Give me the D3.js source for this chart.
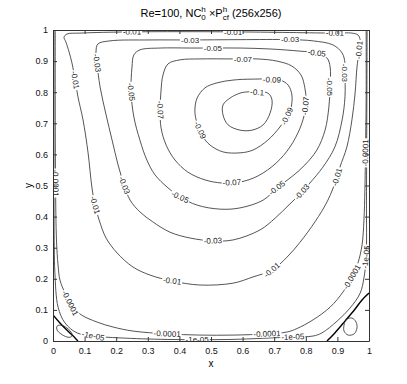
<!DOCTYPE html>
<html><head><meta charset="utf-8">
<script src="https://cdn.jsdelivr.net/npm/d3@7"></script>
<style>body{margin:0;background:#fff} text{font-family:"Liberation Sans",Arial,sans-serif;white-space:pre}</style>
</head><body><svg id="c" width="407" height="384"></svg>
<script>
// ---------- data ----------
const xTickValues = [0,0.1,0.2,0.3,0.4,0.5,0.6,0.7,0.8,0.9,1];
const xTickLabels = ["0","0.1","0.2","0.3","0.4","0.5","0.6","0.7","0.8","0.9","1"];
const yTickValues = [0,0.1,0.2,0.3,0.4,0.5,0.6,0.7,0.8,0.9,1];
const yTickLabels = ["0","0.1","0.2","0.3","0.4","0.5","0.6","0.7","0.8","0.9","1"];

// contour lines of the stream function (x, y)
const cM010 = [[0.680,0.797],[0.693,0.775],[0.687,0.733],[0.665,0.695],[0.630,0.678],[0.592,0.678],[0.554,0.695],[0.538,0.727],[0.538,0.759],[0.560,0.781],[0.592,0.797],[0.617,0.801]];
const cM009 = [[0.630,0.842],[0.718,0.839],[0.744,0.823],[0.756,0.791],[0.753,0.749],[0.741,0.723],[0.718,0.688],[0.680,0.646],[0.633,0.614],[0.592,0.605],[0.538,0.608],[0.497,0.630],[0.475,0.656],[0.465,0.678],[0.453,0.711],[0.449,0.743],[0.456,0.781],[0.481,0.814],[0.519,0.830],[0.570,0.839]];
const cM007 = [[0.570,0.907],[0.646,0.907],[0.709,0.900],[0.756,0.884],[0.785,0.855],[0.797,0.814],[0.801,0.775],[0.797,0.736],[0.782,0.685],[0.750,0.624],[0.706,0.572],[0.649,0.531],[0.592,0.511],[0.535,0.508],[0.481,0.518],[0.427,0.543],[0.386,0.582],[0.358,0.630],[0.342,0.685],[0.339,0.743],[0.342,0.807],[0.348,0.855],[0.364,0.891],[0.402,0.904],[0.465,0.907]];
const cM005 = [[0.275,0.936],[0.339,0.942],[0.434,0.942],[0.506,0.942],[0.592,0.942],[0.687,0.939],[0.782,0.932],[0.835,0.926],[0.867,0.910],[0.877,0.881],[0.877,0.817],[0.873,0.752],[0.861,0.678],[0.835,0.614],[0.797,0.566],[0.759,0.531],[0.709,0.492],[0.665,0.453],[0.592,0.428],[0.528,0.424],[0.456,0.437],[0.402,0.463],[0.361,0.495],[0.323,0.534],[0.297,0.582],[0.275,0.646],[0.256,0.720],[0.247,0.801],[0.250,0.881],[0.256,0.920]];
const cM003 = [[0.142,0.955],[0.180,0.965],[0.307,0.968],[0.434,0.968],[0.592,0.969],[0.750,0.969],[0.823,0.965],[0.886,0.952],[0.915,0.926],[0.924,0.894],[0.924,0.862],[0.924,0.785],[0.915,0.711],[0.892,0.624],[0.854,0.559],[0.813,0.508],[0.788,0.479],[0.750,0.441],[0.703,0.395],[0.655,0.357],[0.570,0.325],[0.506,0.322],[0.434,0.331],[0.370,0.350],[0.316,0.383],[0.275,0.415],[0.244,0.453],[0.225,0.502],[0.206,0.566],[0.187,0.646],[0.168,0.727],[0.149,0.817],[0.139,0.894],[0.136,0.929]];
const cM001 = [[0.035,0.977],[0.044,0.987],[0.085,0.990],[0.250,0.994],[0.570,0.994],[0.892,0.990],[0.946,0.990],[0.965,0.984],[0.972,0.968],[0.968,0.926],[0.962,0.881],[0.956,0.797],[0.946,0.711],[0.930,0.624],[0.908,0.559],[0.899,0.527],[0.870,0.453],[0.829,0.383],[0.782,0.318],[0.741,0.270],[0.693,0.228],[0.633,0.206],[0.570,0.186],[0.465,0.180],[0.377,0.193],[0.307,0.212],[0.253,0.238],[0.203,0.283],[0.168,0.331],[0.146,0.389],[0.133,0.437],[0.123,0.495],[0.111,0.605],[0.095,0.711],[0.079,0.785],[0.070,0.839],[0.060,0.894],[0.051,0.929],[0.041,0.961]];
const cM00001 = [[0.007,0.997],[0.007,0.775],[0.008,0.508],[0.011,0.325],[0.016,0.244],[0.022,0.196],[0.038,0.154],[0.054,0.122],[0.085,0.087],[0.139,0.061],[0.190,0.045],[0.253,0.032],[0.361,0.023],[0.465,0.019],[0.570,0.019],[0.677,0.023],[0.741,0.029],[0.772,0.040],[0.823,0.068],[0.877,0.109],[0.918,0.158],[0.946,0.206],[0.965,0.251],[0.978,0.309],[0.984,0.389],[0.987,0.486],[0.989,0.614],[0.991,0.775],[0.991,0.997]];
const cM1e5 = [[0.003,0.997],[0.003,0.500],[0.004,0.300],[0.006,0.219],[0.016,0.109],[0.038,0.058],[0.076,0.026],[0.127,0.016],[0.212,0.010],[0.361,0.005],[0.560,0.005],[0.759,0.013],[0.823,0.016],[0.851,0.026],[0.899,0.064],[0.940,0.106],[0.972,0.154],[0.984,0.203],[0.991,0.270],[0.992,0.453],[0.994,0.997]];
const cZeroLeft = [[0.000,0.084],[0.022,0.058],[0.047,0.032],[0.070,0.010],[0.079,0.000]];
const cZeroRight = [[0.867,0.000],[0.892,0.026],[0.924,0.064],[0.956,0.103],[0.978,0.132],[1.000,0.154]];
const cEddyLeft = [[0.013,0.048],[0.025,0.051],[0.044,0.042],[0.060,0.023],[0.057,0.013],[0.044,0.013],[0.025,0.023],[0.013,0.035]];
const cEddyRight = [[0.927,0.068],[0.946,0.074],[0.959,0.061],[0.962,0.042],[0.953,0.023],[0.934,0.019],[0.921,0.032],[0.921,0.051]];

// label anchors (x, y) per level
const lbM010 = [[0.646,0.799]];
const lbM009 = [[0.693,0.842],[0.741,0.723],[0.465,0.678]];
const lbM007 = [[0.601,0.907],[0.801,0.756],[0.339,0.743],[0.566,0.508]];
const lbM005 = [[0.506,0.942],[0.835,0.929],[0.877,0.817],[0.247,0.801],[0.402,0.463],[0.709,0.492]];
const lbM003 = [[0.434,0.968],[0.750,0.971],[0.924,0.862],[0.788,0.479],[0.506,0.322],[0.228,0.502],[0.139,0.894]];
const lbM001 = [[0.250,0.994],[0.570,0.994],[0.892,0.990],[0.968,0.936],[0.899,0.527],[0.693,0.228],[0.377,0.193],[0.133,0.437],[0.070,0.839]];
const lbM00001 = [[0.007,0.508],[0.987,0.605],[0.054,0.122],[0.361,0.019],[0.677,0.023],[0.946,0.206]];
const lbM1e5 = [[0.127,0.016],[0.456,0.005],[0.759,0.013],[0.991,0.270]];

const titleParts = {main1:"Re=100, NC", sup1:"h", sub1:"0", main2:"\u00a0\u00d7P", sup2:"h", sub2:"cf", main3:"\u00a0(256x256)"};

// ---------- build ----------
const contours = [
  {level:-0.1, text:"-0.1", pts:cM010, closed:true, labels:lbM010},
  {level:-0.09, text:"-0.09", pts:cM009, closed:true, labels:lbM009},
  {level:-0.07, text:"-0.07", pts:cM007, closed:true, labels:lbM007},
  {level:-0.05, text:"-0.05", pts:cM005, closed:true, labels:lbM005},
  {level:-0.03, text:"-0.03", pts:cM003, closed:true, labels:lbM003},
  {level:-0.01, text:"-0.01", pts:cM001, closed:true, labels:lbM001},
  {level:-0.0001, text:"-0.0001", pts:cM00001, closed:false, labels:lbM00001},
  {level:-1e-5, text:"-1e-05", pts:cM1e5, closed:false, labels:lbM1e5},
  {level:0, text:"0", pts:cZeroLeft, closed:false, labels:[], thick:true},
  {level:0, text:"0", pts:cZeroRight, closed:false, labels:[], thick:true},
  {level:1e-6, text:"1e-06", pts:cEddyLeft, closed:true, labels:[]},
  {level:1e-6, text:"1e-06", pts:cEddyRight, closed:true, labels:[]}
];

const svg = d3.select("#c");
const W = 407, H = 384;
const m = {l:53, r:38, t:30, b:43};
const x = d3.scaleLinear().domain([0,1]).range([m.l, W-m.r]);
const y = d3.scaleLinear().domain([0,1]).range([H-m.b, m.t]);

svg.append("defs").append("clipPath").attr("id","clip")
  .append("rect").attr("x",x(0)).attr("y",y(1)).attr("width",x(1)-x(0)).attr("height",y(0)-y(1));

const g = svg.append("g").attr("clip-path","url(#clip)");
const lineOpen = d3.line().x(d=>x(d[0])).y(d=>y(d[1])).curve(d3.curveCatmullRom.alpha(0.5));
const lineClosed = d3.line().x(d=>x(d[0])).y(d=>y(d[1])).curve(d3.curveCatmullRomClosed.alpha(0.5));

contours.forEach(c=>{
  g.append("path").attr("d",(c.closed?lineClosed:lineOpen)(c.pts))
    .attr("fill","none").attr("stroke", c.thick?"#000":"#2a2a2a")
    .attr("stroke-width", c.thick?1.4:0.8);
});

// labels snapped to their contour, rotated along it
function project(pts, closed, px, py){
  const P = pts.map(p=>[x(p[0]),y(p[1])]);
  if(closed) P.push(P[0]);
  let best={d:1e9};
  for(let i=0;i<P.length-1;i++){
    const [ax,ay]=P[i],[bx,by]=P[i+1];
    const dx=bx-ax, dy=by-ay, L=dx*dx+dy*dy;
    let t=L?((px-ax)*dx+(py-ay)*dy)/L:0; t=Math.max(0,Math.min(1,t));
    const qx=ax+t*dx, qy=ay+t*dy, d=(qx-px)**2+(qy-py)**2;
    if(d<best.d) best={d, qx, qy, ang:Math.atan2(dy,dx)*180/Math.PI};
  }
  let a=best.ang; if(a>90) a-=180; if(a<-90) a+=180;
  best.ang=a; return best;
}
const lg = svg.append("g").attr("clip-path","url(#clip)");
contours.forEach(c=>{
  c.labels.forEach(l=>{
    const p = project(c.pts, c.closed, x(l[0]), y(l[1]));
    const gg = lg.append("g").attr("transform",`translate(${p.qx},${p.qy}) rotate(${p.ang})`);
    const r = gg.append("rect").attr("fill","#fff");
    const t = gg.append("text").text(c.text).attr("font-size",8).attr("fill","#222")
      .attr("text-anchor","middle").attr("dy","0.33em");
    const w = t.node().getComputedTextLength();
    r.attr("x",-w/2-1).attr("y",-3.5).attr("width",w+2).attr("height",7);
  });
});

// axes
const fmtX = (d,i)=>xTickLabels[i];
const fmtY = (d,i)=>yTickLabels[i];
const axB = svg.append("g").attr("transform",`translate(0,${y(0)})`)
  .call(d3.axisBottom(x).tickValues(xTickValues).tickFormat(fmtX).tickSizeInner(-4).tickSizeOuter(0).tickPadding(7));
const axL = svg.append("g").attr("transform",`translate(${x(0)},0)`)
  .call(d3.axisLeft(y).tickValues(yTickValues).tickFormat(fmtY).tickSizeInner(-4).tickSizeOuter(0).tickPadding(5));
const axT = svg.append("g").attr("transform",`translate(0,${y(1)})`)
  .call(d3.axisTop(x).tickValues(xTickValues).tickFormat("").tickSizeInner(-4).tickSizeOuter(0));
const axR = svg.append("g").attr("transform",`translate(${x(1)},0)`)
  .call(d3.axisRight(y).tickValues(yTickValues).tickFormat("").tickSizeInner(-4).tickSizeOuter(0));
[axB,axL,axT,axR].forEach(a=>{
  a.selectAll("path.domain").attr("stroke","#333").attr("stroke-width",1);
  a.selectAll(".tick line").attr("stroke","#333");
  a.selectAll("text").attr("font-size",9).attr("fill","#111").attr("font-family","Liberation Sans, Arial, sans-serif");
});

svg.append("text").attr("x",(x(0)+x(1))/2).attr("y",367).attr("text-anchor","middle")
  .attr("font-size",10).text("x");
svg.append("text").attr("transform",`translate(32,${(y(0)+y(1))/2}) rotate(-90)`).attr("text-anchor","middle")
  .attr("font-size",10).text("y");

// title with stacked super/subscripts
const tg = svg.append("g");
const base = 17, fs = 11, fsS = 8;
let cx = 0;
function piece(txt, size, dy){
  const t = tg.append("text").attr("x",cx).attr("y",base+dy).attr("font-size",size).text(txt);
  return t.node().getComputedTextLength();
}
cx += piece(titleParts.main1, fs, 0);
let w1 = piece(titleParts.sup1, fsS, -5), w2 = piece(titleParts.sub1, fsS, 3);
cx += Math.max(w1,w2);
cx += piece(titleParts.main2, fs, 0);
w1 = piece(titleParts.sup2, fsS, -5); w2 = piece(titleParts.sub2, fsS, 3);
cx += Math.max(w1,w2);
cx += piece(titleParts.main3, fs, 0);
tg.attr("transform",`translate(${(x(0)+x(1))/2 - cx/2},0)`);
</script></body></html>
